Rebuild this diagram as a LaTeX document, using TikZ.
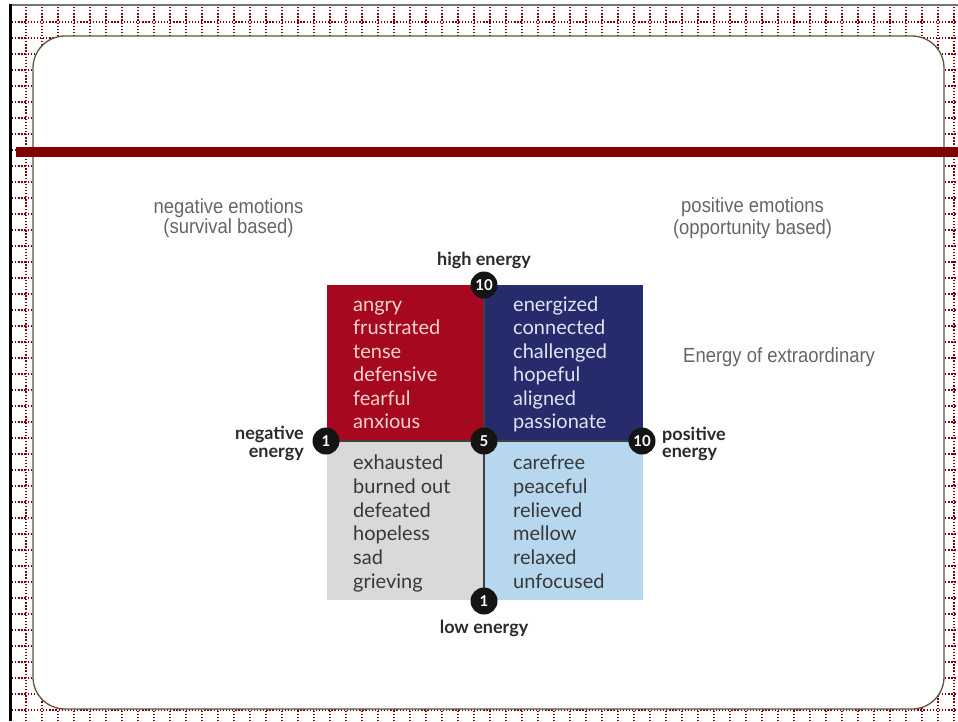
\documentclass[tikz,border=0pt]{standalone}
\usepackage{fontspec}
\newfontfamily\latofont{Lato}
\newfontfamily\grayfont[FakeStretch=0.9]{Liberation Sans}
\definecolor{gridred}{HTML}{800000}
\definecolor{barred}{HTML}{800000}
\definecolor{qred}{HTML}{A6091F}
\definecolor{qnavy}{HTML}{262C6B}
\definecolor{qgray}{HTML}{D9D9D9}
\definecolor{qlblue}{HTML}{B7D7EE}
\definecolor{redtxt}{HTML}{F6D3CF}
\definecolor{navytxt}{HTML}{E0E3F2}
\definecolor{darktxt}{HTML}{383838}
\definecolor{labeltxt}{HTML}{2A2A2A}
\definecolor{graytxt}{HTML}{666666}
\definecolor{framegray}{HTML}{5A5545}
\tikzset{
  gridline/.style={draw=gridred, line width=1.3pt, dash pattern=on 1.3pt off 1.8pt},
  quad/.style={draw=none, inner sep=0pt, minimum width=#1},
  word/.style={anchor=base west, inner sep=0pt, font=\latofont\fontsize{20}{24}\selectfont},
  axislabel/.style={inner sep=0pt, text=labeltxt, font=\latofont\bfseries\fontsize{18}{19}\selectfont},
  numdot/.style={circle, fill=black!92, text=white, inner sep=0pt, minimum size=27pt,
    font=\latofont\bfseries\fontsize{15}{15}\selectfont},
  graylabel/.style={inner sep=0pt, text=graytxt, font=\grayfont\fontsize{20.5}{22}\selectfont}
}
\begin{document}
\begin{tikzpicture}[x=1pt,y=-1pt]
\useasboundingbox (0,0) rectangle (958,721);
\fill[white] (0,0) rectangle (958,721);
% dotted grid
\foreach \gx in {26,42,...,958} \draw[gridline] (\gx,7) -- (\gx,721);
\foreach \gy in {22,38,...,721} \draw[gridline] (12,\gy) -- (958,\gy);
% slide panel
\draw[fill=white, draw=framegray, line width=1.3pt, rounded corners=32pt] (33,36) rectangle (944,709);
% outer frame lines
\draw[black!55, line width=2pt] (10,5) -- (958,5);
\draw[black, line width=2.6pt] (10.5,4) -- (10.5,721);
% title bar
\fill[barred] (16,147) rectangle (958,157);

% quadrants
\node[quad=157pt, minimum height=156pt, fill=qred] (q1) at (405.5,363) {};
\node[quad=159pt, minimum height=156pt, fill=qnavy] (q2) at (563.5,363) {};
\node[quad=157pt, minimum height=159pt, fill=qgray] (q3) at (405.5,520.5) {};
\node[quad=159pt, minimum height=159pt, fill=qlblue] (q4) at (563.5,520.5) {};

% axes
\coordinate (ctop) at (484,285);
\coordinate (cbot) at (484,601);
\coordinate (cleft) at (326,441);
\coordinate (cright) at (642,441);
\draw[black!75, line width=1.2pt] (ctop) -- (cbot);
\draw[black!75, line width=1.2pt] (cleft) -- (cright);

% words
\foreach \w [count=\i from 0] in {angry,frustrated,tense,defensive,fearful,anxious}
  \node[word, text=redtxt] (a\i) at (353,{311+23.5*\i}) {\w};
\foreach \w [count=\i from 0] in {energized,connected,challenged,hopeful,aligned,passionate}
  \node[word, text=navytxt] (b\i) at (513,{311+23.5*\i}) {\w};
\foreach \w [count=\i from 0] in {exhausted,burned out,defeated,hopeless,sad,grieving}
  \node[word, text=darktxt] (c\i) at (353,{469.5+23.8*\i}) {\w};
\foreach \w [count=\i from 0] in {carefree,peaceful,relieved,mellow,relaxed,unfocused}
  \node[word, text=darktxt] (d\i) at (513,{469.5+23.8*\i}) {\w};

% number dots
\node[numdot] (n10t) at (ctop) {10};
\node[numdot] (n1b) at (cbot) {1};
\node[numdot] (n1l) at (cleft) {1};
\node[numdot] (n5) at (484,441) {5};
\node[numdot] (n10r) at (cright) {10};

% axis labels
\node[axislabel, anchor=base] (hi) at (484,265) {high energy};
\node[axislabel, anchor=base] (lo) at (484,633) {low energy};
\node[axislabel, anchor=base east] (neg1) at (304,439) {negative};
\node[axislabel, anchor=base east] (neg2) at (304,457) {energy};
\node[axislabel, anchor=base west] (pos1) at (662,440) {positive};
\node[axislabel, anchor=base west] (pos2) at (662,457) {energy};

% gray labels
\node[graylabel, anchor=base] (ne1) at (228.5,213) {negative emotions};
\node[graylabel, anchor=base] (ne2) at (228.5,233.5) {(survival based)};
\node[graylabel, anchor=base] (pe1) at (752.5,212.5) {positive emotions};
\node[graylabel, anchor=base] (pe2) at (752.5,234) {(opportunity based)};
\node[graylabel, anchor=base west] (ext) at (683,362.5) {Energy of extraordinary};
\end{tikzpicture}
\end{document}
